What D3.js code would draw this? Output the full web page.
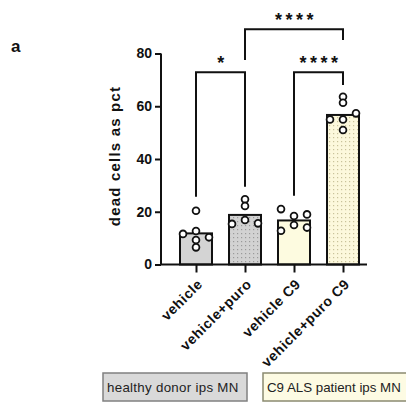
<!DOCTYPE html>
<html><head><meta charset="utf-8">
<script src="https://cdn.jsdelivr.net/npm/d3@7"></script>
<style>
html,body{margin:0;padding:0;background:#fff;}
svg{display:block;font-family:"Liberation Sans",Arial,sans-serif;}
</style></head>
<body><svg id="c" width="406" height="406"></svg>
<script>
const categories = ["vehicle", "vehicle+puro", "vehicle C9", "vehicle+puro C9"];
const barMeans = [11.8, 18.8, 16.7, 56.7];
const groupOf = ["healthy", "healthy", "C9", "C9"];
const treatment = ["vehicle", "puro", "vehicle", "puro"];
// replicate values per category and their dodge slot (-1 left, 0 centre, 1 right)
const pointValues = [
  [20.4, 12.7, 11.6, 10.3, 9.3, 6.5],
  [24.7, 22.2, 16.9, 15.4, 15.6],
  [21.0, 18.4, 19.0, 15.0, 12.8, 14.0],
  [63.6, 61.3, 57.3, 55.0, 55.0, 51.0]
];
const pointSlots = [
  [0, 0, -1, 1, 0, 0],
  [0, 0, 0, -1, 1],
  [-1, 0, 1, 0, -1, 1],
  [0, 0, 1, -1, 0, 0]
];
const yTicks = [0, 20, 40, 60, 80];
const yLabel = "dead cells as pct";
const panelLabel = "a";
const legendLabels = ["healthy donor ips MN", "C9 ALS patient ips MN"];
// comparisons: from, to, label, bracket level, left leg end, right leg end (in data units)
const cmpFrom = ["vehicle", "vehicle C9", "vehicle+puro"];
const cmpTo = ["vehicle+puro", "vehicle+puro C9", "vehicle+puro C9"];
const cmpLabel = ["*", "****", "****"];
const cmpLevel = [72.9, 72.9, 89.2];
const cmpLeftEnd = [25.7, 26.1, 77.5];
const cmpRightEnd = [29.5, 68.1, 85.1];

const svg = d3.select("#c");
const defs = svg.append("defs");
function dotPattern(id, bg, dot) {
  const p = defs.append("pattern").attr("id", id).attr("patternUnits", "userSpaceOnUse")
    .attr("width", 4).attr("height", 4);
  p.append("rect").attr("width", 4).attr("height", 4).attr("fill", bg);
  p.append("rect").attr("x", 1).attr("y", 1).attr("width", 1.2).attr("height", 1.2).attr("fill", dot);
}
dotPattern("dotGray", "#d2d2d2", "#9a9a9a");
dotPattern("dotYellow", "#fcf8dc", "#c9c29a");
const fillFor = (i) => {
  if (groupOf[i] === "healthy") return treatment[i] === "puro" ? "url(#dotGray)" : "#d4d4d4";
  return treatment[i] === "puro" ? "url(#dotYellow)" : "#fdfbe0";
};

const x = d3.scalePoint().domain(categories).range([196, 343]);
const y = d3.scaleLinear().domain([0, 80]).range([264.5, 53.5]);
const slot = d3.scaleLinear().domain([-1, 1]).range([-13, 13]);
const barW = 32;

// bars
svg.append("g").selectAll("rect").data(categories).join("rect")
  .attr("x", d => x(d) - barW / 2)
  .attr("y", (d, i) => y(barMeans[i]))
  .attr("width", barW)
  .attr("height", (d, i) => y(0) - y(barMeans[i]))
  .attr("fill", (d, i) => fillFor(i))
  .attr("stroke", "#111").attr("stroke-width", 2);

// points
const pts = [];
categories.forEach((c, i) => pointValues[i].forEach((v, j) => pts.push({c, v, s: pointSlots[i][j]})));
svg.append("g").selectAll("circle").data(pts).join("circle")
  .attr("cx", d => x(d.c) + slot(d.s))
  .attr("cy", d => y(d.v))
  .attr("r", 3.4)
  .attr("fill", "#fff").attr("stroke", "#111").attr("stroke-width", 1.8);

// y axis
const yAxis = svg.append("g").attr("transform", "translate(161,0)")
  .call(d3.axisLeft(y).tickValues(yTicks).tickSize(6).tickPadding(3));
yAxis.select(".domain").attr("stroke", "#111").attr("stroke-width", 2)
  .attr("d", `M0,${y(80)}V${y(0)}`);
yAxis.selectAll(".tick line").attr("stroke", "#111").attr("stroke-width", 2);
yAxis.selectAll(".tick text").attr("font-size", 14).attr("font-weight", "bold")
  .attr("fill", "#111").attr("font-family", "Liberation Sans, Arial, sans-serif");

// x axis
const xAxis = svg.append("g").attr("transform", `translate(0,${y(0)})`)
  .call(d3.axisBottom(x).tickSize(8).tickFormat(""));
xAxis.select(".domain").attr("stroke", "#111").attr("stroke-width", 2).attr("d", "M161,0H367");
xAxis.selectAll(".tick line").attr("stroke", "#111").attr("stroke-width", 2);
svg.append("g").selectAll("text").data(categories).join("text")
  .attr("transform", d => `translate(${x(d) + 4},${y(0) + 17}) rotate(-45)`)
  .attr("text-anchor", "end")
  .attr("dy", "0.35em")
  .attr("font-size", 14).attr("font-weight", "bold").attr("letter-spacing", 0.6)
  .attr("fill", "#111")
  .text(d => d);

// y label
svg.append("text")
  .attr("transform", `translate(120,156) rotate(-90)`)
  .attr("text-anchor", "middle")
  .attr("font-size", 15).attr("font-weight", "bold").attr("letter-spacing", 1.2)
  .attr("fill", "#111")
  .text(yLabel);

// panel label
svg.append("text").attr("x", 11).attr("y", 52)
  .attr("font-size", 17).attr("font-weight", "bold").attr("fill", "#111").text(panelLabel);

// brackets
const cmp = cmpFrom.map((f, i) => ({f, t: cmpTo[i], label: cmpLabel[i], lv: cmpLevel[i], le: cmpLeftEnd[i], re: cmpRightEnd[i]}));
const bg = svg.append("g");
bg.selectAll("path").data(cmp).join("path")
  .attr("d", d => `M${x(d.f)},${y(d.le)}V${y(d.lv)}H${x(d.t)}V${y(d.re)}`)
  .attr("fill", "none").attr("stroke", "#111").attr("stroke-width", 2);
bg.selectAll("text").data(cmp).join("text")
  .attr("x", d => (x(d.f) + x(d.t)) / 2 + 2)
  .attr("y", d => y(d.lv) - 3)
  .attr("text-anchor", "middle")
  .attr("font-size", 18).attr("font-weight", "bold").attr("letter-spacing", 3.5)
  .attr("fill", "#111")
  .text(d => d.label);

// legend
const legFill = ["#d9d9d9", "#fdfbe3"];
const legStroke = ["#808080", "#8a8a70"];
const legX = [103, 263];
const legW = [144, 160];
const legSpacing = [0.3, 0];
const lg = svg.append("g").selectAll("g").data(legendLabels).join("g");
lg.append("rect").attr("x", (d, i) => legX[i]).attr("y", 373).attr("width", (d, i) => legW[i]).attr("height", 28)
  .attr("fill", (d, i) => legFill[i]).attr("stroke", (d, i) => legStroke[i]).attr("stroke-width", 1.5);
lg.append("text").attr("x", (d, i) => legX[i] + 4).attr("y", 392)
  .attr("font-size", 13.3).attr("fill", "#222").attr("letter-spacing", (d, i) => legSpacing[i])
  .text(d => d);
</script></body></html>
